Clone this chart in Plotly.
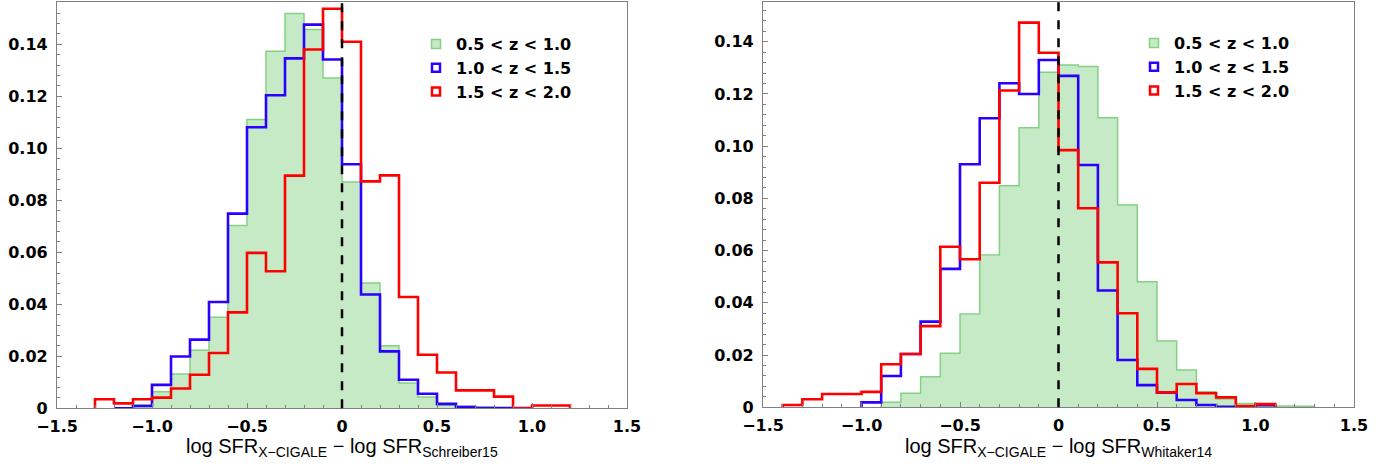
import plotly.graph_objects as go

# ---------------- data (bin width 0.1) ----------------
bin_width = 0.1

# Left panel: vs Schreiber15
green_L_start = -1.1
green_L = [0.0013, 0.0064, 0.0132, 0.0223, 0.0350, 0.0703, 0.1111, 0.1374, 0.1519, 0.1457,
           0.1271, 0.0871, 0.0482, 0.0241, 0.0097, 0.0043, 0.0012, 0.0008, 0.0005]
blue_L_start = -1.2
blue_L = [0.0, 0.0009, 0.0090, 0.0199, 0.0264, 0.0409, 0.0749, 0.1081, 0.1204, 0.1346,
          0.1476, 0.1342, 0.0939, 0.0438, 0.0219, 0.0110, 0.0056, 0.0017, 0.0005, 0.0001,
          0.0003, 0.0001]
red_L_start = -1.3
red_L = [0.0035, 0.0019, 0.0035, 0.0041, 0.0076, 0.0129, 0.0213, 0.0369, 0.0598, 0.0527,
         0.0895, 0.1380, 0.1537, 0.1410, 0.0873, 0.0896, 0.0428, 0.0206, 0.0138, 0.0069,
         0.0069, 0.0045, 0.0, 0.0011, 0.0011]

# Right panel: vs Whitaker14
green_R_start = -0.9
green_R = [0.0019, 0.0054, 0.0117, 0.0207, 0.0357, 0.0583, 0.0848, 0.1071, 0.1283, 0.1311,
           0.1305, 0.1109, 0.0775, 0.0481, 0.0254, 0.0143, 0.0060, 0.0032, 0.0015, 0.0013,
           0.0005, 0.0004]
blue_R_start = -1.0
blue_R = [0.0019, 0.0120, 0.0204, 0.0328, 0.0530, 0.0931, 0.1107, 0.1241, 0.1200, 0.1330,
          0.1269, 0.0928, 0.0447, 0.0181, 0.0085, 0.0056, 0.0028, 0.0009, 0.0002, 0.0004,
          0.0008]
red_R_start = -1.4
red_R = [0.0009, 0.0031, 0.0051, 0.0051, 0.0059, 0.0165, 0.0204, 0.0311, 0.0615, 0.0567,
         0.0860, 0.1213, 0.1473, 0.1358, 0.0985, 0.0762, 0.0555, 0.0360, 0.0147, 0.0057,
         0.0089, 0.0054, 0.0038, 0.0005, 0.0012]

legend_labels = ["0.5 < z < 1.0", "1.0 < z < 1.5", "1.5 < z < 2.0"]
x_tickvals = [-1.5, -1.0, -0.5, 0, 0.5, 1.0, 1.5]
x_ticktext = ["\u22121.5", "\u22121.0", "\u22120.5", "0", "0.5", "1.0", "1.5"]
y_tickvals = [0, 0.02, 0.04, 0.06, 0.08, 0.10, 0.12, 0.14]
y_ticktext = ["0", "0.02", "0.04", "0.06", "0.08", "0.10", "0.12", "0.14"]
xtitle_L = "log SFR<sub>X\u2212CIGALE</sub> \u2212 log SFR<sub>Schreiber15</sub>"
xtitle_R = "log SFR<sub>X\u2212CIGALE</sub> \u2212 log SFR<sub>Whitaker14</sub>"

# ---------------- style ----------------
W, H = 1391, 470
FONT = "Liberation Sans"
GREEN_FILL = "#c6eac6"
GREEN_LINE = "#84d184"
BLUE = "#2a00ff"
RED = "#ff0000"
FRAME = "#808080"
TICKFONT = dict(family="DejaVu Sans", size=16, color="black", weight="bold")
LEGFONT = dict(family="DejaVu Sans", size=16, color="black", weight="bold")


def centers(start, vals):
    return [round(start + bin_width * (i + 0.5), 6) for i in range(len(vals))]


def step_xy(start, vals):
    xs, ys = [start], [0.0]
    for i, v in enumerate(vals):
        l = start + bin_width * i
        xs += [l, l + bin_width]
        ys += [v, v]
    xs.append(start + bin_width * len(vals))
    ys.append(0.0)
    return xs, ys


def bold(labels):
    return ["<b>%s</b>" % t for t in labels]


fig = go.Figure()

panels = [
    ("x", "y", green_L_start, green_L, blue_L_start, blue_L, red_L_start, red_L, "legend"),
    ("x2", "y2", green_R_start, green_R, blue_R_start, blue_R, red_R_start, red_R, "legend2"),
]

for xa, ya, gs, gv, bs, bv, rs, rv, leg in panels:
    fig.add_trace(go.Bar(x=centers(gs, gv), y=gv, width=bin_width, marker=dict(color=GREEN_FILL, line=dict(width=0)),
                         xaxis=xa, yaxis=ya, showlegend=False, hoverinfo="skip"))
    gx, gy = step_xy(gs, gv)
    fig.add_trace(go.Scatter(x=gx, y=gy, mode="lines", line=dict(color=GREEN_LINE, width=1.5),
                             xaxis=xa, yaxis=ya, showlegend=False, hoverinfo="skip"))
    bx, by = step_xy(bs, bv)
    fig.add_trace(go.Scatter(x=bx, y=by, mode="lines", line=dict(color=BLUE, width=2.6),
                             xaxis=xa, yaxis=ya, showlegend=False, hoverinfo="skip"))
    rx, ry = step_xy(rs, rv)
    fig.add_trace(go.Scatter(x=rx, y=ry, mode="lines", line=dict(color=RED, width=2.6),
                             xaxis=xa, yaxis=ya, showlegend=False, hoverinfo="skip"))
    # legend entries
    fig.add_trace(go.Scatter(x=[None], y=[None], mode="markers", name=legend_labels[0], legend=leg,
                             marker=dict(symbol="square", size=9, color=GREEN_FILL, line=dict(color=GREEN_LINE, width=1.5)),
                             xaxis=xa, yaxis=ya))
    fig.add_trace(go.Scatter(x=[None], y=[None], mode="markers", name=legend_labels[1], legend=leg,
                             marker=dict(symbol="square-open", size=8, color=BLUE, line=dict(width=2.5)),
                             xaxis=xa, yaxis=ya))
    fig.add_trace(go.Scatter(x=[None], y=[None], mode="markers", name=legend_labels[2], legend=leg,
                             marker=dict(symbol="square-open", size=8, color=RED, line=dict(width=2.5)),
                             xaxis=xa, yaxis=ya))
    fig.add_shape(type="line", xref=xa, yref=ya + " domain", x0=0, x1=0, y0=0, y1=1,
                  line=dict(color="black", width=2.5, dash="dash"), layer="above")

# domains in pixels
L_x0, L_x1 = 57, 627
R_x0, R_x1 = 763, 1354
L_ytop, L_ybot = 2, 408.3
R_ytop, R_ybot = 1.5, 407.3

common_x = dict(range=[-1.5, 1.5], tickvals=x_tickvals, ticktext=bold(x_ticktext), ticks="inside", ticklen=5,
                tickwidth=1, tickcolor=FRAME, showline=True, linecolor=FRAME, linewidth=1.2, mirror=True,
                showgrid=False, zeroline=False, automargin=False, ticklabelstandoff=3,
                minor=dict(dtick=0.1, ticks="inside", ticklen=3, tickcolor=FRAME, showgrid=False),
                tickfont=TICKFONT)
common_y = dict(tickvals=y_tickvals, ticktext=bold(y_ticktext), ticks="inside", ticklen=5,
                tickwidth=1, tickcolor=FRAME, showline=True, linecolor=FRAME, linewidth=1.2, mirror=True,
                showgrid=False, zeroline=False, automargin=False, ticklabelstandoff=5,
                minor=dict(dtick=0.004, tick0=0, ticks="inside", ticklen=3, tickcolor=FRAME, showgrid=False),
                tickfont=TICKFONT)

fig.update_layout(
    width=W, height=H, margin=dict(l=0, r=0, t=0, b=0),
    paper_bgcolor="white", plot_bgcolor="white", barmode="overlay", bargap=0,
    xaxis=dict(domain=[L_x0 / W, L_x1 / W], anchor="y", **common_x),
    yaxis=dict(domain=[1 - L_ybot / H, 1 - L_ytop / H], anchor="x", range=[0, 0.1563], **common_y),
    xaxis2=dict(domain=[R_x0 / W, R_x1 / W], anchor="y2", **common_x),
    yaxis2=dict(domain=[1 - R_ybot / H, 1 - R_ytop / H], anchor="x2", range=[0, 0.1554], **common_y),
    legend=dict(x=416 / W, y=1 - 27 / H, xanchor="left", yanchor="top", bgcolor="rgba(0,0,0,0)",
                font=LEGFONT, itemwidth=30, tracegroupgap=0),
    legend2=dict(x=1134 / W, y=1 - 26 / H, xanchor="left", yanchor="top", bgcolor="rgba(0,0,0,0)",
                 font=LEGFONT, itemwidth=30, tracegroupgap=0),
    showlegend=True,
)

fig.add_annotation(text=xtitle_L, xref="x", yref="paper", x=0, y=1 - 447 / H, showarrow=False,
                   xanchor="center", yanchor="middle", font=dict(family=FONT, size=20, color="black"))
fig.add_annotation(text=xtitle_R, xref="x2", yref="paper", x=0, y=1 - 447 / H, showarrow=False,
                   xanchor="center", yanchor="middle", font=dict(family=FONT, size=20, color="black"))

fig.write_html("out.html")
